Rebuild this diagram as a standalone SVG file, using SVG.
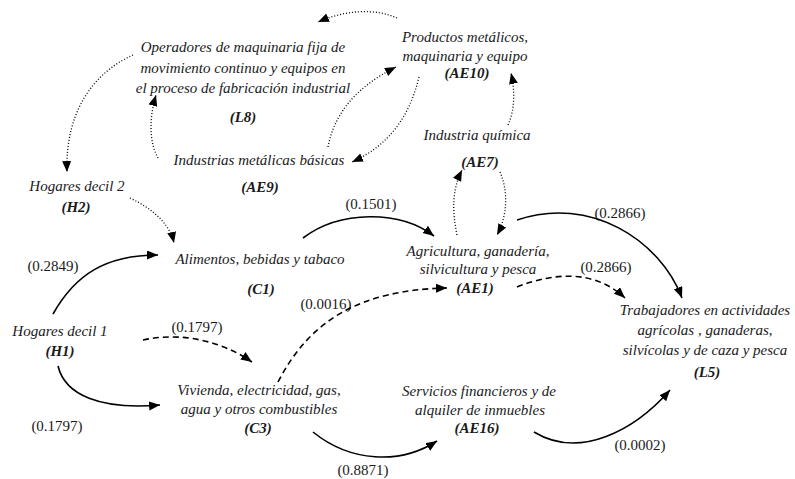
<svg xmlns="http://www.w3.org/2000/svg" width="795" height="479" viewBox="0 0 795 479">
<style>
text{font-family:"Liberation Serif","Times New Roman",serif;font-size:15px;fill:#1a1a1a}
.n{font-style:italic;text-anchor:middle}
.b{font-style:italic;font-weight:bold;text-anchor:middle}
.v{text-anchor:middle}
.c{fill:none;stroke:#000}
.s{stroke-width:1.6}
.d{stroke-width:1.6;stroke-dasharray:6 4}
.o{stroke-width:1.3;stroke-dasharray:1 2}
</style>
<defs>
<marker id="a" markerUnits="userSpaceOnUse" markerWidth="12" markerHeight="10" refX="11" refY="4.5" orient="auto"><path d="M0,0 L11,4.5 L0,9 z" fill="#000"/></marker>
</defs>
<rect width="795" height="479" fill="#fff"/>
<g id="L8"><text class="n" x="243" y="52">Operadores de maquinaria  fija de</text><text class="n" x="243" y="73">movimiento continuo y equipos en</text><text class="n" x="243" y="93">el proceso de fabricación industrial</text><text class="b" x="243" y="122">(L8)</text></g>
<g id="AE10"><text class="n" x="465" y="42">Productos metálicos,</text><text class="n" x="465" y="61">maquinaria y equipo</text><text class="b" x="467" y="78">(AE10)</text></g>
<g id="AE7"><text class="n" x="477" y="140">Industria química</text><text class="b" x="480" y="167">(AE7)</text></g>
<g id="AE9"><text class="n" x="259" y="165">Industrias metálicas básicas</text><text class="b" x="260" y="192">(AE9)</text></g>
<g id="H2"><text class="n" x="77" y="191">Hogares decil 2</text><text class="b" x="76" y="212">(H2)</text></g>
<g id="C1"><text class="n" x="260" y="264">Alimentos, bebidas y tabaco</text><text class="b" x="261" y="294">(C1)</text></g>
<g id="H1"><text class="n" x="60" y="336">Hogares decil 1</text><text class="b" x="60" y="356">(H1)</text></g>
<g id="C3"><text class="n" x="259" y="395">Vivienda, electricidad, gas,</text><text class="n" x="259" y="414">agua y otros combustibles</text><text class="b" x="258" y="433">(C3)</text></g>
<g id="AE1"><text class="n" x="478" y="256">Agricultura, ganadería,</text><text class="n" x="478" y="274">silvicultura y pesca</text><text class="b" x="475" y="293">(AE1)</text></g>
<g id="L5"><text class="n" x="705" y="315">Trabajadores en actividades</text><text class="n" x="705" y="335">agrícolas , ganaderas,</text><text class="n" x="705" y="355">silvícolas y de caza y pesca</text><text class="b" x="707" y="377">(L5)</text></g>
<g id="AE16"><text class="n" x="479" y="396">Servicios financieros y de</text><text class="n" x="480" y="415">alquiler de inmuebles</text><text class="b" x="477" y="433">(AE16)</text></g>
<g id="labels">
<text class="v" x="53" y="271">(0.2849)</text>
<text class="v" x="197" y="332">(0.1797)</text>
<text class="v" x="57" y="431">(0.1797)</text>
<text class="v" x="326" y="309">(0.0016)</text>
<text class="v" x="371" y="209">(0.1501)</text>
<text class="v" x="620" y="218">(0.2866)</text>
<text class="v" x="606" y="272">(0.2866)</text>
<text class="v" x="363" y="475">(0.8871)</text>
<text class="v" x="640" y="450">(0.0002)</text>
</g>
<g id="connectors">
<path class="c o" d="M397,18 C375,8 345,10 318,22" marker-end="url(#a)"/>
<path class="c o" d="M133,55 C95,72 65,110 67,172" marker-end="url(#a)"/>
<path class="c o" d="M158,158 C148,140 150,115 156,95" marker-end="url(#a)"/>
<path class="c o" d="M328,147 C335,110 360,85 396,67" marker-end="url(#a)"/>
<path class="c o" d="M419,77 C410,115 390,145 352,162" marker-end="url(#a)"/>
<path class="c o" d="M508,125 C515,110 515,90 511,73" marker-end="url(#a)"/>
<path class="c o" d="M457,235 C452,210 452,190 462,170" marker-end="url(#a)"/>
<path class="c o" d="M500,172 C508,190 508,215 497,235" marker-end="url(#a)"/>
<path class="c o" d="M130,198 C155,210 170,225 174,243" marker-end="url(#a)"/>
<path class="c s" d="M53,314 C75,275 105,255 158,255" marker-end="url(#a)"/>
<path class="c d" d="M143,340 C180,332 220,340 252,362" marker-end="url(#a)"/>
<path class="c s" d="M58,366 C65,395 100,410 160,405" marker-end="url(#a)"/>
<path class="c d" d="M278,382 C310,320 360,290 447,288" marker-end="url(#a)"/>
<path class="c s" d="M303,238 C340,210 400,210 434,236" marker-end="url(#a)"/>
<path class="c s" d="M517,220 C590,195 660,240 682,298" marker-end="url(#a)"/>
<path class="c d" d="M517,287 C555,272 595,270 625,298" marker-end="url(#a)"/>
<path class="c s" d="M313,432 C350,462 400,465 437,441" marker-end="url(#a)"/>
<path class="c s" d="M534,432 C580,460 635,430 670,390" marker-end="url(#a)"/>
</g>
</svg>
